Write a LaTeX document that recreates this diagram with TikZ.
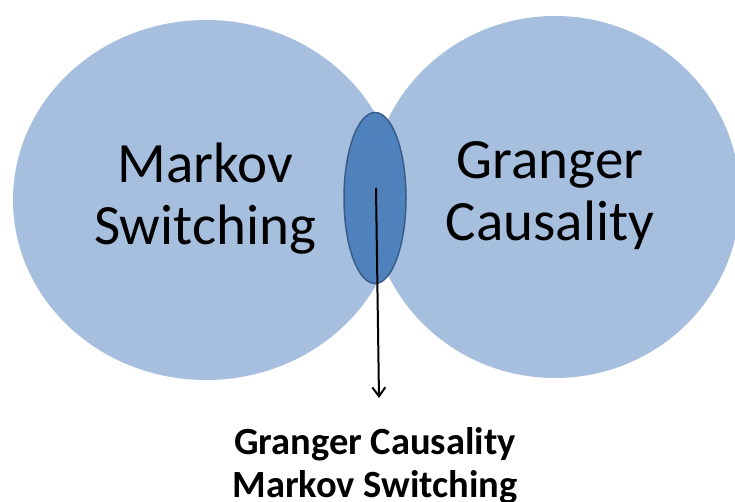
\documentclass[tikz,border=0pt]{standalone}
\usepackage{fontspec}
\setmainfont{Carlito}
\usetikzlibrary{shapes.geometric,arrows.meta}
\definecolor{setblue}{HTML}{A7BFDE}
\definecolor{overlapblue}{HTML}{4F81BD}
\definecolor{overlapline}{HTML}{385D8A}
\tikzset{
    setnode/.style={ellipse, fill=setblue, inner sep=0pt},
    settext/.style={align=center, inner sep=0pt, anchor=base, font=\fontsize{57}{62}\selectfont},
    notetext/.style={align=center, inner sep=0pt, anchor=base, font=\bfseries\fontsize{38.5}{43}\selectfont},
}
\begin{document}
\begin{tikzpicture}[x=1pt,y=-1pt]
    \useasboundingbox (0,0) rectangle (735,502);
    % the two sets
    \node[setnode, minimum width=386, minimum height=360] (markov) at (206,200) {};
    \node[setnode, minimum width=370, minimum height=362] (granger) at (555,197) {};
    % the overlap
    \node[ellipse, fill=overlapblue, draw=overlapline, line width=1.5pt,
          minimum width=62, minimum height=171, inner sep=0pt] (both) at (375,198) {};
    % base anchor sits on the last line
    \node[settext] (markovlbl) at (205,245) {Markov\\Switching};
    \node[settext] (grangerlbl) at (550,241) {Granger\\Causality};
    % pointer to the caption
    \coordinate (tail) at (376,188);
    \coordinate (tip) at (379,398);
    \draw[line width=2pt, -{Straight Barb[length=9pt, width=13pt]}] (tail) -- (tip);
    \node[notetext] (bothlbl) at (375,497) {Granger Causality\\Markov Switching};
\end{tikzpicture}
\end{document}
